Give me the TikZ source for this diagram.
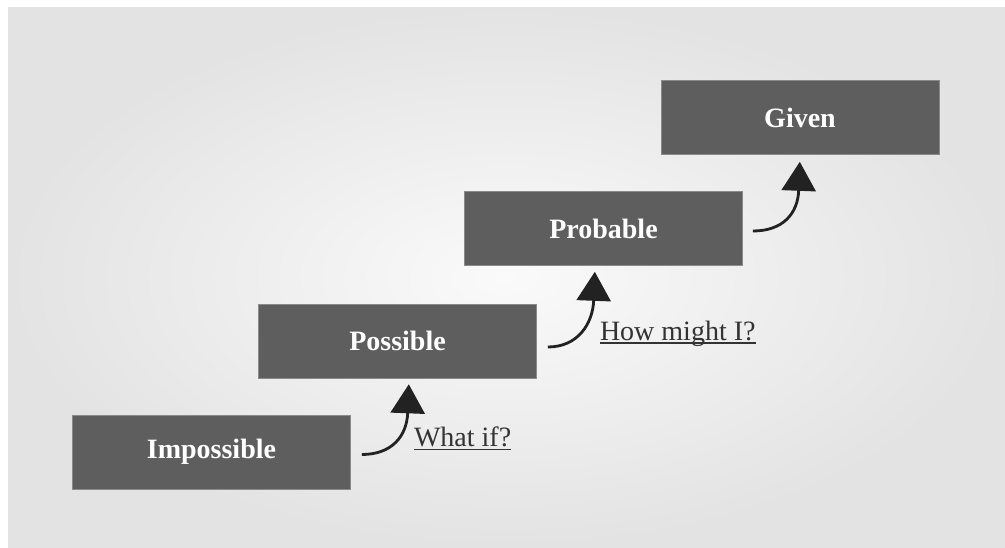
\documentclass[tikz,border=0pt]{standalone}
\usepackage{fontspec}
\setmainfont{Liberation Serif}
\usetikzlibrary{arrows.meta,calc}
\definecolor{boxfill}{HTML}{5E5E5E}
\definecolor{boxline}{HTML}{8A8A8A}
\definecolor{arrowc}{HTML}{222222}
\definecolor{txtc}{HTML}{333333}
\definecolor{bgin}{HTML}{FAFAFA}
\definecolor{bgout}{HTML}{E3E3E3}
\begin{document}
\begin{tikzpicture}[x=1pt,y=-1pt,
  stepbox/.style={rectangle, fill=boxfill, draw=boxline, line width=0.6pt,
    minimum width=278pt, minimum height=74pt, inner sep=0pt, text=white,
    font=\fontsize{28}{30}\selectfont\bfseries},
  up/.style={line width=2.8pt, draw=arrowc,
    -{Triangle[width=34pt,length=29pt]}},
  ask/.style={anchor=base west, inner sep=0pt, text=txtc,
    font=\fontsize{28}{30}\selectfont},
  uline/.style={line width=1.2pt, draw=txtc}]
\useasboundingbox (0,0) rectangle (1005,547);
\shade[inner color=bgin, outer color=bgout] (8,7) rectangle (1005,547);

\node[stepbox] (imp)  at (211.5,452)   {Impossible};
\node[stepbox] (pos)  at (397.5,341)   {Possible};
\node[stepbox] (prob) at (603.5,228.5) {Probable};
\node[stepbox] (giv)  at (800,117.5)   {Given};

% arrow 1
\coordinate (s1) at ($(imp.east)+(11,2.5)$);
\coordinate (e1) at ($(imp.east |- pos.south)+(58,6)$);
\draw[up] (s1) .. controls ($(s1)+(30,0)$) and ($(e1)+(-2,52)$) .. (e1);
\node[ask] (q1) at ($(e1 |- s1)+(5,-8)$) {What if?};
\draw[uline] ($(q1.base west)+(0,3)$) -- ($(q1.base east)+(0,3)$);

% arrow 2
\coordinate (s2) at ($(pos.east)+(11,6)$);
\coordinate (e2) at ($(pos.east |- prob.south)+(58,6)$);
\draw[up] (s2) .. controls ($(s2)+(30,0)$) and ($(e2)+(-2,52)$) .. (e2);
\node[ask] (q2) at ($(e2 |- s2)+(5,-7)$) {How might I?};
\draw[uline] ($(q2.base west)+(0,3)$) -- ($(q2.base east)+(0,3)$);

% arrow 3
\coordinate (s3) at ($(prob.east)+(10,2.5)$);
\coordinate (e3) at ($(prob.east |- giv.south)+(57,7)$);
\draw[up] (s3) .. controls ($(s3)+(30,0)$) and ($(e3)+(-2,52)$) .. (e3);
\end{tikzpicture}
\end{document}
